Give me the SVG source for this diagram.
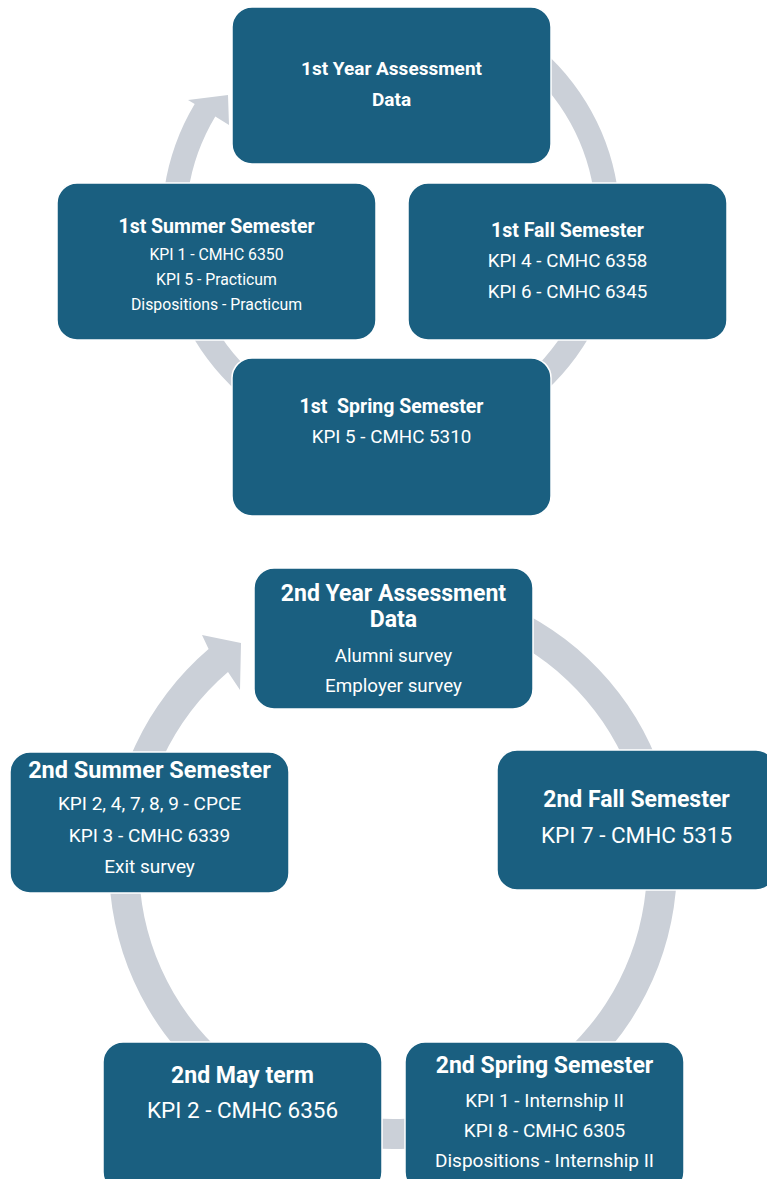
<svg xmlns="http://www.w3.org/2000/svg" width="767" height="1179" viewBox="0 0 767 1179">
  <style>
    .ring { fill: #cbd0d8; }
    .box { fill: #1a5f80; stroke: #ffffff; stroke-width: 1.5; }
    .t { font-family: Roboto, "Liberation Sans", Arial, sans-serif; fill: #ffffff; text-anchor: middle; }
    .b { font-weight: 700; }
  </style>
  <rect width="767" height="1179" fill="#ffffff"/>

  <!-- Connectors: circular arrows behind the boxes -->
  <g id="connectors">
    <!-- year 1 cycle, centre (391,222) -->
    <path class="ring" d="M505.5 23.7 A229 229 0 1 1 194.7 104.1 L188 100 L228 95 L229 125 L215.3 116.4 A205 205 0 1 0 493.5 44.5 Z"/>
    <!-- year 2 cycle, centre (393,865) -->
    <path class="ring" d="M513 607.6 A284 284 0 1 1 208.6 649 L202 635 L241 643 L240 690 L228 671.9 A254 254 0 1 0 500.3 634.8 Z"/>
  </g>

  <!-- Year 1 -->
  <g id="y1-assessment">
    <rect class="box" x="232" y="7" width="319" height="157" rx="20"/>
    <text class="t b" x="391.5" y="75" font-size="19">1st Year Assessment</text>
    <text class="t b" x="391.5" y="106" font-size="19">Data</text>
  </g>
  <g id="y1-summer">
    <rect class="box" x="57" y="183" width="319" height="157" rx="20"/>
    <text class="t b" x="216.5" y="233" font-size="19.5">1st Summer Semester</text>
    <text class="t" x="216.5" y="260" font-size="15.8">KPI 1 - CMHC 6350</text>
    <text class="t" x="216.5" y="285" font-size="15.8">KPI 5 - Practicum</text>
    <text class="t" x="216.5" y="310" font-size="15.8">Dispositions - Practicum</text>
  </g>
  <g id="y1-fall">
    <rect class="box" x="408" y="183" width="319" height="157" rx="20"/>
    <text class="t b" x="567.5" y="237" font-size="19.5">1st Fall Semester</text>
    <text class="t" x="567.5" y="267" font-size="18.8">KPI 4 - CMHC 6358</text>
    <text class="t" x="567.5" y="298" font-size="18.8">KPI 6 - CMHC 6345</text>
  </g>
  <g id="y1-spring">
    <rect class="box" x="232" y="358" width="319" height="158" rx="20"/>
    <text class="t b" x="391.5" y="413" font-size="19.5" xml:space="preserve">1st  Spring Semester</text>
    <text class="t" x="391.5" y="443" font-size="18.8">KPI 5 - CMHC 5310</text>
  </g>

  <!-- Year 2 -->
  <g id="y2-assessment">
    <rect class="box" x="254" y="568" width="279" height="141" rx="20"/>
    <text class="t b" x="393.5" y="601" font-size="23">2nd Year Assessment</text>
    <text class="t b" x="393.5" y="627" font-size="23">Data</text>
    <text class="t" x="393.5" y="662" font-size="18.8">Alumni survey</text>
    <text class="t" x="393.5" y="692" font-size="18.8">Employer survey</text>
  </g>
  <g id="y2-summer">
    <rect class="box" x="10" y="752" width="279" height="141" rx="20"/>
    <text class="t b" x="149.5" y="778" font-size="23.5">2nd Summer Semester</text>
    <text class="t" x="149.5" y="810" font-size="19">KPI 2, 4, 7, 8, 9 - CPCE</text>
    <text class="t" x="149.5" y="842" font-size="19">KPI 3 - CMHC 6339</text>
    <text class="t" x="149.5" y="873" font-size="19">Exit survey</text>
  </g>
  <g id="y2-fall">
    <rect class="box" x="497" y="750" width="279" height="140" rx="20"/>
    <text class="t b" x="636.5" y="807" font-size="23">2nd Fall Semester</text>
    <text class="t" x="636.5" y="843" font-size="22.5">KPI 7 - CMHC 5315</text>
  </g>
  <g id="y2-may">
    <rect class="box" x="103" y="1042" width="279" height="150" rx="20"/>
    <text class="t b" x="242.5" y="1083" font-size="23">2nd May term</text>
    <text class="t" x="242.5" y="1118" font-size="22.5">KPI 2 - CMHC 6356</text>
  </g>
  <g id="y2-spring">
    <rect class="box" x="405" y="1042" width="279" height="150" rx="20"/>
    <text class="t b" x="544.5" y="1073" font-size="23">2nd Spring Semester</text>
    <text class="t" x="544.5" y="1107" font-size="19">KPI 1 - Internship II</text>
    <text class="t" x="544.5" y="1137" font-size="19">KPI 8 - CMHC 6305</text>
    <text class="t" x="544.5" y="1167" font-size="19">Dispositions - Internship II</text>
  </g>
</svg>
